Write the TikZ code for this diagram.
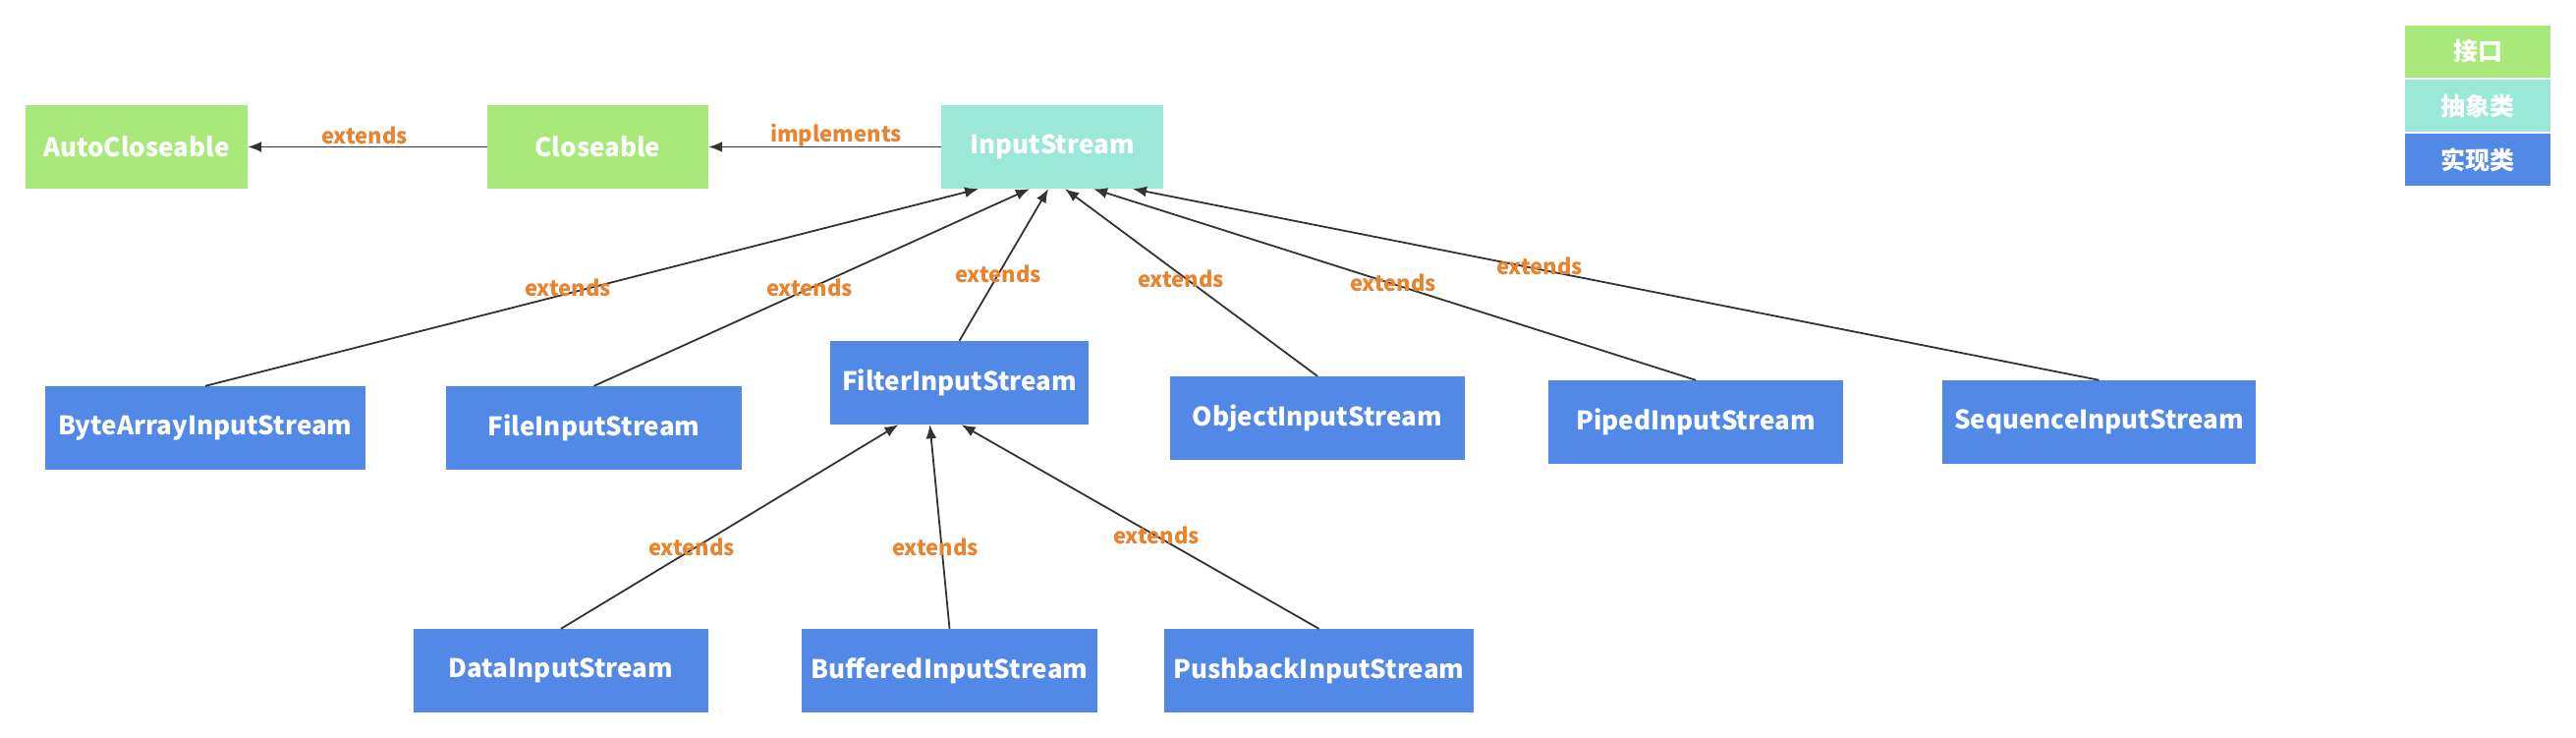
\documentclass[tikz,border=0pt]{standalone}
\usepackage{fontspec}
\setmainfont{Noto Sans CJK SC}
\usetikzlibrary{arrows.meta}
\definecolor{ifgreen}{HTML}{A9E87A}
\definecolor{abteal}{HTML}{9BE8D9}
\definecolor{implblue}{HTML}{5288E6}
\definecolor{lblorange}{HTML}{E8832F}
\definecolor{linegray}{HTML}{333333}
\begin{document}
\begin{tikzpicture}[x=1pt,y=-1pt,
  box/.style={rectangle, inner sep=0pt, minimum height=85pt, text=white,
    font=\bfseries\fontsize{26}{30}\selectfont},
  legendbox/.style={rectangle, inner sep=0pt, minimum width=148pt, minimum height=53pt,
    text=white, font=\bfseries\fontsize{25}{28}\selectfont},
  conn/.style={draw=linegray, line width=1.8pt, -{Latex[length=14pt,width=11pt]}},
  lbl/.style={text=lblorange, inner sep=0pt, font=\bfseries\fontsize{22}{24}\selectfont}]
\useasboundingbox (0,0) rectangle (2622,751);
% top row
\node[box, fill=ifgreen, minimum width=226pt] (auto) at (139,149.5) {AutoCloseable};
\node[box, fill=ifgreen, minimum width=225pt] (close) at (608.5,149.5) {Closeable};
\node[box, fill=abteal, minimum width=226pt] (input) at (1071,149.5) {InputStream};
% middle row
\node[box, fill=implblue, minimum width=326pt] (byte) at (209,435.5) {ByteArrayInputStream};
\node[box, fill=implblue, minimum width=301pt] (file) at (604.5,435.5) {FileInputStream};
\node[box, fill=implblue, minimum width=263pt] (filter) at (976.5,389.5) {FilterInputStream};
\node[box, fill=implblue, minimum width=300pt] (object) at (1341,425.5) {ObjectInputStream};
\node[box, fill=implblue, minimum width=300pt] (piped) at (1726,429.5) {PipedInputStream};
\node[box, fill=implblue, minimum width=319pt] (seq) at (2136.5,429.5) {SequenceInputStream};
% bottom row
\node[box, fill=implblue, minimum width=300pt] (data) at (571,682.5) {DataInputStream};
\node[box, fill=implblue, minimum width=301pt] (buffered) at (966.5,682.5) {BufferedInputStream};
\node[box, fill=implblue, minimum width=315pt] (pushback) at (1342.5,682.5) {PushbackInputStream};
% legend
\node[legendbox, fill=ifgreen] (lg1) at (2522,52.5) {接口};
\node[legendbox, fill=abteal] (lg2) at (2522,107.5) {抽象类};
\node[legendbox, fill=implblue] (lg3) at (2522,162.5) {实现类};
% connectors
\draw[conn] (close.west) -- (auto.east);
\draw[conn] (input.west) -- (close.east);
\draw[conn] (byte.north) -- ([xshift=-75pt]input.south);
\draw[conn] (file.north) -- ([xshift=-23pt]input.south);
\draw[conn] (filter.north) -- ([xshift=-4pt]input.south);
\draw[conn] (object.north) -- ([xshift=13pt]input.south);
\draw[conn] (piped.north) -- ([xshift=42pt]input.south);
\draw[conn] (seq.north) -- ([xshift=82pt]input.south);
\draw[conn] (data.north) -- ([xshift=-62pt]filter.south);
\draw[conn] (buffered.north) -- ([xshift=-30pt]filter.south);
\draw[conn] (pushback.north) -- ([xshift=2pt]filter.south);
% labels
\node[lbl] (l1) at (371,138) {extends};
\node[lbl] (l2) at (851,138) {implements};
\node[lbl] (l3) at (578,293) {extends};
\node[lbl] (l4) at (824,293) {extends};
\node[lbl] (l5) at (1016,279) {extends};
\node[lbl] (l6) at (1202,284) {extends};
\node[lbl] (l7) at (1418,288) {extends};
\node[lbl] (l8) at (1567,271) {extends};
\node[lbl] (l9) at (704,557) {extends};
\node[lbl] (l10) at (952,557) {extends};
\node[lbl] (l11) at (1177,545) {extends};
\end{tikzpicture}
\end{document}
